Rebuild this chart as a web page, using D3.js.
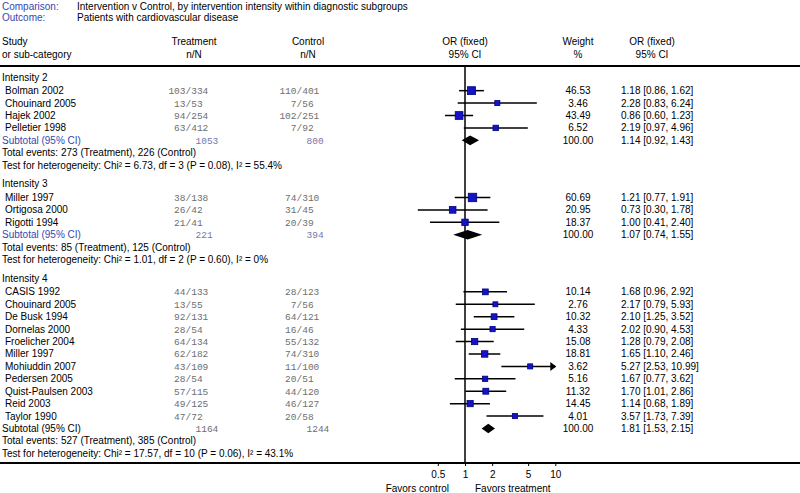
<!DOCTYPE html>
<html>
<head>
<meta charset="utf-8">
<script src="https://cdn.jsdelivr.net/npm/d3@7/dist/d3.min.js"></script>
<style>
  body { margin: 0; background: white; }
  svg text { font-family: "Liberation Sans", Arial, sans-serif; font-size: 10px; }
  svg text.num { font-family: "Liberation Mono", "Courier New", monospace; font-size: 9.5px; fill: #6e6e6e; }
</style>
</head>
<body>
<div id="chart"></div>
<script>
// Subgroups
const groups = ["Intensity 2", "Intensity 3", "Intensity 4"];

// Individual studies
const studyGroup = [0, 0, 0, 0, 1, 1, 1, 2, 2, 2, 2, 2, 2, 2, 2, 2, 2, 2];
const studyNames = ["Bolman 2002", "Chouinard 2005", "Hajek 2002", "Pelletier 1998",
  "Miller 1997", "Ortigosa 2000", "Rigotti 1994",
  "CASIS 1992", "Chouinard 2005", "De Busk 1994", "Dornelas 2000", "Froelicher 2004",
  "Miller 1997", "Mohiuddin 2007", "Pedersen 2005", "Quist-Paulsen 2003", "Reid 2003", "Taylor 1990"];
const treatEvents = [103, 13, 94, 63, 38, 26, 21, 44, 13, 92, 28, 64, 62, 43, 28, 57, 49, 47];
const treatTotal = [334, 53, 254, 412, 138, 42, 41, 133, 55, 131, 54, 134, 182, 109, 54, 115, 125, 72];
const ctrlEvents = [110, 7, 102, 7, 74, 31, 20, 28, 7, 64, 16, 55, 74, 11, 20, 44, 46, 20];
const ctrlTotal = [401, 56, 251, 92, 310, 45, 39, 123, 56, 121, 46, 132, 310, 100, 51, 120, 127, 58];
const weights = [46.53, 3.46, 43.49, 6.52, 60.69, 20.95, 18.37,
  10.14, 2.76, 10.32, 4.33, 15.08, 18.81, 3.62, 5.16, 11.32, 14.45, 4.01];
const orVal = [1.18, 2.28, 0.86, 2.19, 1.21, 0.73, 1.00,
  1.68, 2.17, 2.10, 2.02, 1.28, 1.65, 5.27, 1.67, 1.70, 1.14, 3.57];
const orLo = [0.86, 0.83, 0.60, 0.97, 0.77, 0.30, 0.41,
  0.96, 0.79, 1.25, 0.90, 0.79, 1.10, 2.53, 0.77, 1.01, 0.68, 1.73];
const orHi = [1.62, 6.24, 1.23, 4.96, 1.91, 1.78, 2.40,
  2.92, 5.93, 3.52, 4.53, 2.08, 2.46, 10.99, 3.62, 2.86, 1.89, 7.39];

// Subtotals per subgroup
const subTreatTotal = [1053, 221, 1164];
const subCtrlTotal = [800, 394, 1244];
const subOr = [1.14, 1.07, 1.81];
const subLo = [0.92, 0.74, 1.53];
const subHi = [1.43, 1.55, 2.15];
const subEventsT = [273, 85, 527];
const subEventsC = [226, 125, 385];
const hetChi = ["6.73", "1.01", "17.57"];
const hetDf = [3, 2, 10];
const hetP = ["0.08", "0.60", "0.06"];
const hetI2 = ["55.4%", "0%", "43.1%"];

const ticks = [0.5, 1, 2, 5, 10];

const W = 800, H = 493;
const blue = "#3348ad";

const svg = d3.select("#chart").append("svg").attr("width", W).attr("height", H);

const x = d3.scaleLog().domain([0.1, 10]).range([374.7, 555.3]);
const y = d3.scaleLinear().domain([0, 1]).range([77, 89.42]);
const size = d3.scaleSqrt().domain([0, 100]).range([4, 9.7]);

// Titles
svg.append("text").attr("x", 2).attr("y", 9.5).attr("fill", blue).text("Comparison:");
svg.append("text").attr("x", 77).attr("y", 9.5).text("Intervention v Control, by intervention intensity within diagnostic subgroups");
svg.append("text").attr("x", 2).attr("y", 20.5).attr("fill", blue).text("Outcome:");
svg.append("text").attr("x", 77).attr("y", 20.5).text("Patients with cardiovascular disease");

// Column headers
const head = [
  { x: 2, a: "start", t: ["Study", "or sub-category"] },
  { x: 194, a: "middle", t: ["Treatment", "n/N"] },
  { x: 308, a: "middle", t: ["Control", "n/N"] },
  { x: x(1), a: "middle", t: ["OR (fixed)", "95% CI"] },
  { x: 578, a: "middle", t: ["Weight", "%"] },
  { x: 652, a: "middle", t: ["OR (fixed)", "95% CI"] }
];
head.forEach(h => {
  h.t.forEach((s, i) => {
    svg.append("text").attr("x", h.x).attr("y", 45 + i * 12.5).attr("text-anchor", h.a).text(s);
  });
});

svg.append("line").attr("x1", 0).attr("x2", W).attr("y1", 66).attr("y2", 66)
  .attr("stroke", "black").attr("stroke-width", 2);

// Build row layout
const rows = [];
let u = 0;
groups.forEach((g, gi) => {
  rows.push({ type: "group", u: u, gi: gi });
  u += 1.1;
  studyNames.forEach((s, i) => {
    if (studyGroup[i] !== gi) return;
    rows.push({ type: "study", u: u, i: i });
    u += 1;
  });
  rows.push({ type: "sub", u: u, gi: gi }); u += 1;
  rows.push({ type: "events", u: u, gi: gi }); u += 1;
  rows.push({ type: "het", u: u, gi: gi }); u += 1.5;
});

const slashT = 185.5, slashC = 296.5;
const fmt2 = d3.format(".2f");

// null line
svg.append("line").attr("x1", x(1)).attr("x2", x(1)).attr("y1", 66).attr("y2", 463)
  .attr("stroke", "black").attr("stroke-width", 1.5);

rows.forEach(r => {
  const yc = y(r.u), yb = yc + 3.5;
  if (r.type === "group") {
    svg.append("text").attr("x", 2).attr("y", yb).text(groups[r.gi]);
  } else if (r.type === "study") {
    const i = r.i;
    svg.append("text").attr("x", 5).attr("y", yb).text(studyNames[i]);
    svg.append("text").attr("class", "num").attr("x", slashT).attr("y", yb).attr("text-anchor", "end").text(treatEvents[i]);
    svg.append("text").attr("class", "num").attr("x", slashT).attr("y", yb).text("/" + treatTotal[i]);
    svg.append("text").attr("class", "num").attr("x", slashC).attr("y", yb).attr("text-anchor", "end").text(ctrlEvents[i]);
    svg.append("text").attr("class", "num").attr("x", slashC).attr("y", yb).text("/" + ctrlTotal[i]);
    svg.append("text").attr("x", 578).attr("y", yb).attr("text-anchor", "middle").text(fmt2(weights[i]));
    svg.append("text").attr("x", 621).attr("y", yb)
      .text(fmt2(orVal[i]) + " [" + fmt2(orLo[i]) + ", " + fmt2(orHi[i]) + "]");
    const hiC = Math.min(orHi[i], 10);
    svg.append("line").attr("x1", x(orLo[i])).attr("x2", x(hiC)).attr("y1", yc).attr("y2", yc)
      .attr("stroke", "black").attr("stroke-width", 1.5);
    if (orHi[i] > 10) {
      const ax = x(10);
      svg.append("path").attr("d", `M${ax - 5},${yc - 4.5}L${ax + 1},${yc}L${ax - 5},${yc + 4.5}Z`).attr("fill", "black");
    }
    const s = size(weights[i]);
    svg.append("rect").attr("x", x(orVal[i]) - s / 2).attr("y", yc - s / 2)
      .attr("width", s).attr("height", s)
      .attr("fill", "#1414c4").attr("stroke", "#000080").attr("stroke-width", 0.8);
  } else if (r.type === "sub") {
    const gi = r.gi;
    const col = gi < 2 ? blue : "black";
    const ncol = gi < 2 ? "#7676ac" : "#6e6e6e";
    svg.append("text").attr("x", 2).attr("y", yb).attr("fill", col).text("Subtotal (95% CI)");
    svg.append("text").attr("class", "num").attr("x", slashT + 10).attr("y", yb).style("fill", ncol).text(subTreatTotal[gi]);
    svg.append("text").attr("class", "num").attr("x", slashC + 10).attr("y", yb).style("fill", ncol).text(subCtrlTotal[gi]);
    svg.append("text").attr("x", 578).attr("y", yb).attr("text-anchor", "middle").text("100.00");
    svg.append("text").attr("x", 621).attr("y", yb)
      .text(fmt2(subOr[gi]) + " [" + fmt2(subLo[gi]) + ", " + fmt2(subHi[gi]) + "]");
    const h = 4.8;
    svg.append("path")
      .attr("d", `M${x(subLo[gi])},${yc}L${x(subOr[gi])},${yc - h}L${x(subHi[gi])},${yc}L${x(subOr[gi])},${yc + h}Z`)
      .attr("fill", "black");
  } else if (r.type === "events") {
    const gi = r.gi;
    svg.append("text").attr("x", 2).attr("y", yb)
      .text("Total events: " + subEventsT[gi] + " (Treatment), " + subEventsC[gi] + " (Control)");
  } else if (r.type === "het") {
    const gi = r.gi;
    svg.append("text").attr("x", 2).attr("y", yb)
      .text("Test for heterogeneity: Chi\u00b2 = " + hetChi[gi] + ", df = " + hetDf[gi] +
        " (P = " + hetP[gi] + "), I\u00b2 = " + hetI2[gi]);
  }
});

// Axis
svg.append("line").attr("x1", 0).attr("x2", W).attr("y1", 463).attr("y2", 463)
  .attr("stroke", "black").attr("stroke-width", 2);
const axis = d3.axisBottom(x).tickValues(ticks).tickFormat(d3.format("")).tickSize(3);
const ag = svg.append("g").attr("transform", "translate(0,463)").call(axis);
ag.select(".domain").remove();
ag.selectAll("text").attr("font-size", 10).attr("font-family", "Liberation Sans, Arial, sans-serif").attr("dy", "0.9em");

svg.append("text").attr("x", x(1) - 16).attr("y", 492).attr("text-anchor", "end").text("Favors control");
svg.append("text").attr("x", x(1) + 10).attr("y", 492).text("Favors treatment");
</script>
</body>
</html>
